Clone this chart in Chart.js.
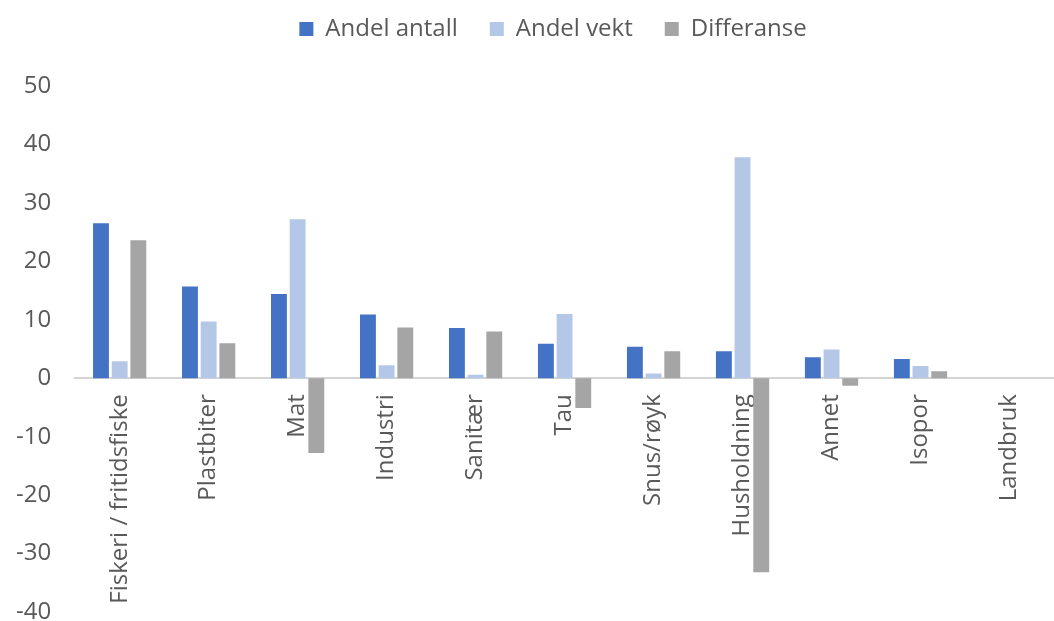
<!DOCTYPE html>
<html>
<head>
<meta charset="utf-8">
<script src="https://cdn.jsdelivr.net/npm/chart.js@4/dist/chart.umd.min.js"></script>
<style>
  html, body { margin: 0; padding: 0; background: #fff; }
  #wrap { width: 1054px; height: 621px; }
</style>
</head>
<body>
<div id="wrap"><canvas id="chart" width="1054" height="621"></canvas></div>
<script>
// Categories and the three series (percent)
const categories = ['Fiskeri / fritidsfiske', 'Plastbiter', 'Mat', 'Industri', 'Sanitær', 'Tau',
  'Snus/røyk', 'Husholdning', 'Annet', 'Isopor', 'Landbruk'];
const andelAntall = [26.5, 15.7, 14.4, 10.9, 8.6, 5.9, 5.4, 4.6, 3.6, 3.3, 0];
const andelVekt = [2.9, 9.7, 27.2, 2.2, 0.6, 11.0, 0.8, 37.8, 4.9, 2.1, 0];
const differanse = [23.6, 6.0, -12.8, 8.7, 8.0, -5.1, 4.6, -33.2, -1.3, 1.2, 0];

const yMin = -40, yMax = 50, yStep = 10;

const textColor = '#595959';
const fontFamily = '"Open Sans", "Noto Sans", sans-serif';
const fontSize = 24;

// leave room under the legend before the plot starts, and nudge it right a bit
const legendSpace = {
  id: 'legendSpace',
  beforeInit(chart) {
    const fit = chart.legend.fit;
    chart.legend.fit = function () {
      fit.call(this);
      this.height = 101;
    };
  },
  afterLayout(chart) {
    chart.legend.left += 16;
    chart.legend.right += 16;
  }
};

const ctx = document.getElementById('chart').getContext('2d');
new Chart(ctx, {
  type: 'bar',
  data: {
    labels: categories,
    datasets: [
      { label: 'Andel antall', data: andelAntall, backgroundColor: '#4472C4' },
      { label: 'Andel vekt', data: andelVekt, backgroundColor: '#B4C7E7' },
      { label: 'Differanse', data: differanse, backgroundColor: '#A5A5A5' }
    ]
  },
  plugins: [legendSpace],
  options: {
    responsive: false,
    animation: false,
    layout: { padding: { top: -15, bottom: 9, left: 0, right: -20 } },
    datasets: {
      bar: { categoryPercentage: 0.63, barPercentage: 0.85 }
    },
    plugins: {
      tooltip: { enabled: false },
      legend: {
        position: 'top',
        labels: {
          color: textColor,
          font: { family: fontFamily, size: fontSize },
          boxWidth: 14,
          boxHeight: 14,
          padding: 32
        }
      }
    },
    scales: {
      x: {
        position: { y: 0 },
        // the category labels hang over the plot, so the axis takes no room
        afterFit(scale) {
          scale.height = 0;
        },
        grid: { display: false },
        border: { display: true, color: '#d4d4d4', width: 2 },
        ticks: {
          autoSkip: false,
          minRotation: 90,
          maxRotation: 90,
          padding: 8,
          color: textColor,
          font: { family: fontFamily, size: fontSize }
        }
      },
      y: {
        min: yMin,
        max: yMax,
        afterFit(scale) {
          // only half a label may hang below the plot
          scale.paddingBottom = 9;
        },
        grid: { display: false },
        border: { display: false },
        ticks: {
          stepSize: yStep,
          padding: 16,
          color: textColor,
          font: { family: fontFamily, size: fontSize, lineHeight: 0.75 }
        }
      }
    }
  }
});
</script>
</body>
</html>
